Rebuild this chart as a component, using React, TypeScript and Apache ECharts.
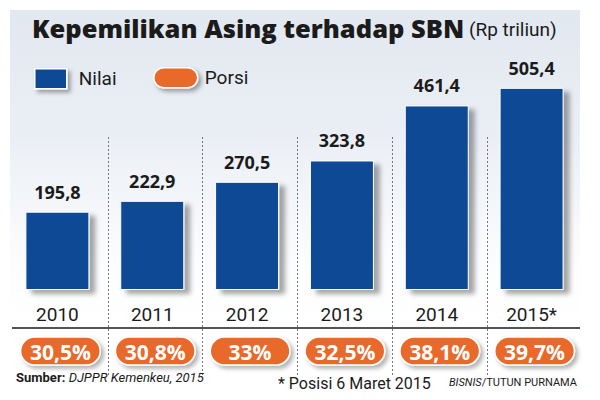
import React, { useEffect, useRef } from 'react';
import * as echarts from 'echarts';

const years = ['2010', '2011', '2012', '2013', '2014', '2015*'];
const nilai = [195.8, 222.9, 270.5, 323.8, 461.4, 505.4];
const porsi = [30.5, 30.8, 33, 32.5, 38.1, 39.7];

const fmt = (v: number) => String(v).replace('.', ',');

const BLUE = '#0a4a94';
const ORANGE = '#e8692a';
const INK = '#1b1b1b';

export default function App() {
  const ref = useRef<HTMLDivElement>(null);
  useEffect(() => {
    document.body.style.margin = '0';
    const chart = echarts.init(ref.current!, null, { renderer: 'svg' });
    const pillPath = 'path://M10,0 H34 A10,10 0 0 1 34,20 H10 A10,10 0 0 1 10,0 Z';
    const iconStyle = {
      borderColor: '#ffffff',
      borderWidth: 1.5,
      shadowBlur: 4,
      shadowColor: 'rgba(0,0,0,0.35)',
      shadowOffsetX: 3,
      shadowOffsetY: 3,
    };
    chart.setOption({
      animation: false,
      backgroundColor: '#ffffff',
      textStyle: { fontFamily: 'Roboto, sans-serif' },
      title: {
        left: 32,
        top: 15,
        padding: 0,
        text: '{a|Kepemilikan Asing terhadap SBN}{b| (Rp triliun)}',
        textStyle: {
          rich: {
            a: { fontFamily: 'Open Sans', fontWeight: 800, fontSize: 25.5, color: INK, verticalAlign: 'bottom' },
            b: { fontFamily: 'Roboto', fontWeight: 'normal', fontSize: 19, color: INK, verticalAlign: 'bottom', padding: [0, 0, 2, 0] },
          },
        },
      },
      legend: [
        {
          data: ['Nilai'],
          left: 34,
          top: 68,
          padding: 0,
          itemWidth: 32,
          itemHeight: 20,
          selectedMode: false,
          icon: 'rect',
          itemStyle: iconStyle,
          textStyle: { fontSize: 19, color: INK, fontFamily: 'Roboto', padding: [0, 0, 0, 7] },
        },
        {
          data: ['Porsi'],
          left: 153,
          top: 67,
          padding: 0,
          itemWidth: 44,
          itemHeight: 21,
          selectedMode: false,
          icon: pillPath,
          itemStyle: iconStyle,
          textStyle: { fontSize: 19, color: INK, fontFamily: 'Roboto', padding: [0, 0, 0, 2] },
        },
      ],
      grid: [
        { left: 10, right: 21, top: 50, bottom: 110 },
        { left: 13, right: 18, top: 137, bottom: 24 },
        { left: 13, right: 18, top: 337, height: 28 },
      ],
      xAxis: [
        {
          type: 'category',
          gridIndex: 0,
          data: years,
          axisLine: { show: false },
          axisTick: { show: false },
          axisLabel: { fontSize: 19, color: INK, margin: 15, fontFamily: 'Roboto' },
        },
        {
          type: 'category',
          gridIndex: 1,
          data: years,
          axisLine: { show: false },
          axisTick: { show: false },
          axisLabel: { show: false },
          splitLine: {
            show: true,
            showMinLine: false,
            showMaxLine: false,
            lineStyle: { color: '#777777', type: [2, 2], width: 1 },
          },
        },
        { type: 'category', gridIndex: 2, data: years, show: false },
      ],
      yAxis: [
        { type: 'value', gridIndex: 0, min: 0, max: 600, show: false },
        { type: 'value', gridIndex: 1, min: 0, max: 1, show: false },
        { type: 'value', gridIndex: 2, min: 0, max: 1, show: false },
      ],
      series: [
        {
          name: 'Nilai',
          type: 'bar',
          xAxisIndex: 0,
          yAxisIndex: 0,
          data: nilai,
          barWidth: 64,
          z: 3,
          itemStyle: {
            color: BLUE,
            borderColor: '#ffffff',
            borderWidth: 1,
            shadowColor: 'rgba(0,0,0,0.35)',
            shadowBlur: 5,
            shadowOffsetX: 6,
            shadowOffsetY: 4,
          },
          label: {
            show: true,
            position: 'top',
            distance: 11,
            formatter: (p: any) => fmt(p.value),
            fontSize: 18,
            fontWeight: 'bold',
            color: INK,
            fontFamily: 'Open Sans',
          },
        },
        {
          name: 'Porsi',
          type: 'custom',
          xAxisIndex: 2,
          yAxisIndex: 2,
          z: 3,
          data: porsi.map((v, i) => [i, v]),
          itemStyle: { color: ORANGE },
          renderItem: (params: any, api: any) => {
            const i = api.value(0);
            const bottom = api.coord([i, 0]);
            const top = api.coord([i, 1]);
            const w = api.size([1, 0])[0] * 0.84;
            const h = bottom[1] - top[1];
            const cx = bottom[0];
            return {
              type: 'group',
              children: [
                {
                  type: 'rect',
                  shape: { x: cx - w / 2, y: top[1], width: w, height: h, r: h / 2 },
                  style: {
                    fill: ORANGE,
                    stroke: '#ffffff',
                    lineWidth: 1.5,
                    shadowBlur: 4,
                    shadowColor: 'rgba(0,0,0,0.3)',
                    shadowOffsetX: 3,
                    shadowOffsetY: 3,
                  },
                },
                {
                  type: 'text',
                  style: {
                    text: fmt(api.value(1)) + '%',
                    x: cx,
                    y: top[1] + h / 2 + 1,
                    align: 'center',
                    verticalAlign: 'middle',
                    fill: '#ffffff',
                    fontSize: 21,
                    fontWeight: 'bold',
                    fontFamily: 'Open Sans',
                  },
                },
              ],
            };
          },
        },
      ],
      graphic: [
        {
          type: 'rect',
          z: -10,
          silent: true,
          shape: { x: 10, y: 10, width: 570, height: 320 },
          style: {
            fill: new echarts.graphic.LinearGradient(0, 0, 0, 1, [
              { offset: 0, color: '#e2e8f0' },
              { offset: 0.4, color: '#ebeff5' },
              { offset: 0.8, color: '#fcfdfe' },
              { offset: 1, color: '#ffffff' },
            ]),
          },
        },
        {
          type: 'line',
          z: 5,
          shape: { x1: 12, y1: 328, x2: 580, y2: 328 },
          style: { stroke: INK, lineWidth: 1.5 },
        },
        {
          type: 'text',
          x: 16,
          y: 377,
          z: 5,
          style: {
            text: '{b|Sumber:} {i|DJPPR Kemenkeu, 2015}',
            verticalAlign: 'middle',
            rich: {
              b: { fontSize: 13, fontWeight: 'bold', fill: INK, fontFamily: 'Roboto' },
              i: { fontSize: 13, fontStyle: 'italic', fill: INK, fontFamily: 'Roboto' },
            },
          },
        },
        {
          type: 'text',
          x: 278,
          y: 383,
          z: 5,
          style: {
            text: '* Posisi 6 Maret 2015',
            fontSize: 16,
            fill: INK,
            verticalAlign: 'middle',
            fontFamily: 'Roboto',
          },
        },
        {
          type: 'text',
          x: 577,
          y: 382,
          z: 5,
          style: {
            text: '{i|BISNIS}{n|/TUTUN PURNAMA}',
            align: 'right',
            verticalAlign: 'middle',
            rich: {
              i: { fontSize: 11, fontStyle: 'italic', fill: INK, fontFamily: 'Roboto' },
              n: { fontSize: 11, fill: INK, fontFamily: 'Roboto' },
            },
          },
        },
      ],
    });
    return () => chart.dispose();
  }, []);
  return <div ref={ref} style={{ width: 600, height: 400 }} />;
}
